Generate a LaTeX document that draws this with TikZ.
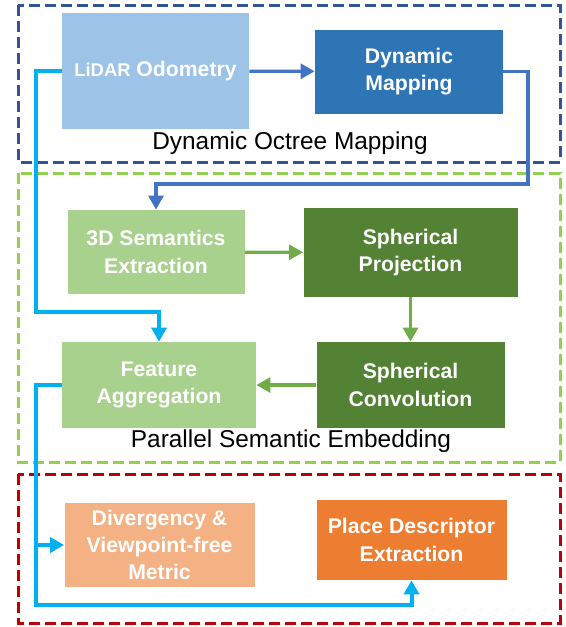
\documentclass[tikz,border=0pt]{standalone}
\usepackage{fontspec}
\setmainfont{Liberation Sans}
\usetikzlibrary{arrows.meta, positioning}

\definecolor{lidarblue}{HTML}{9DC3E6}
\definecolor{mapblue}{HTML}{2E75B6}
\definecolor{lightgreen}{HTML}{A9D18E}
\definecolor{darkgreen}{HTML}{548235}
\definecolor{lightorange}{HTML}{F4B183}
\definecolor{darkorange}{HTML}{ED7D31}
\definecolor{arrowblue}{HTML}{4472C4}
\definecolor{arrowgreen}{HTML}{70AD47}
\definecolor{arrowcyan}{HTML}{00B0F0}
\definecolor{frameblue}{HTML}{2F5597}
\definecolor{framegreen}{HTML}{92D050}
\definecolor{framered}{HTML}{C00000}

\begin{document}
\begin{tikzpicture}[
  x=0.5pt, y=-0.5pt, % pixel grid of the original figure
  block/.style={rectangle, inner sep=0pt, text=white, align=center,
    font=\fontsize{10.6}{13.6}\selectfont\bfseries},
  frame/.style={line width=1.5pt, dash pattern=on 5.5pt off 2.5pt},
  caption/.style={font=\fontsize{12.2}{14}\selectfont},
  link/.style={line width=1.6pt, -{Triangle[length=7pt, width=7.5pt]}},
  feed/.style={line width=2pt, -{Triangle[length=7pt, width=7.5pt]}}]

  \useasboundingbox (0,0) rectangle (566,627);

  % group frames
  \draw[frame, frameblue] (18,5) rectangle (560,162);
  \draw[frame, framegreen] (18,173) rectangle (560,462);
  \draw[frame, framered] (18,474) rectangle (560,623);

  % blocks
  \node[block, fill=lidarblue, minimum width=187*0.5pt, minimum height=116*0.5pt]
    (lidar) at (155.5,71) {{\fontsize{9.2}{12}\selectfont LiDAR} Odometry};
  \node[block, fill=mapblue, minimum width=188*0.5pt, minimum height=84*0.5pt]
    (dynmap) at (409,71.5) {Dynamic\\Mapping};
  \node[block, fill=lightgreen, minimum width=177*0.5pt, minimum height=84*0.5pt]
    (sem) at (156,252) {3D Semantics\\Extraction};
  \node[block, fill=darkgreen, minimum width=214*0.5pt, minimum height=89*0.5pt]
    (sproj) at (410.5,252.5) {Spherical\\Projection};
  \node[block, fill=lightgreen, minimum width=194*0.5pt, minimum height=86*0.5pt]
    (feat) at (159,385) {Feature\\Aggregation};
  \node[block, fill=darkgreen, minimum width=188*0.5pt, minimum height=86*0.5pt]
    (sconv) at (410.5,385) {Spherical\\Convolution};
  \node[block, fill=lightorange, minimum width=190*0.5pt, minimum height=84*0.5pt]
    (div) at (159.5,545) {Divergency \&\\Viewpoint-free\\Metric};
  \node[block, fill=darkorange, minimum width=190*0.5pt, minimum height=80*0.5pt]
    (place) at (411.5,540) {Place Descriptor\\Extraction};

  % captions
  \node[caption] (capmap) at (290,143) {Dynamic Octree Mapping};
  \node[caption] (capsem) at (291,441) {Parallel Semantic Embedding};

  % turning points
  \coordinate (mapturn) at (528,184);
  \coordinate (odoturn) at (36,312);
  \coordinate (featturn) at (36,605);
  \coordinate (divturn) at (36,545);

  % connectors
  \draw[link, arrowblue] (lidar) -- (dynmap);
  \draw[link, arrowblue] (dynmap.east) -| (mapturn) -| (sem.north);
  \draw[link, arrowgreen] (sem) -- (sproj);
  \draw[link, arrowgreen] (sproj) -- (sconv);
  \draw[link, arrowgreen] (sconv) -- (feat);
  \draw[feed, arrowcyan] (lidar.west) -| (odoturn) -| (feat.north);
  \draw[feed, arrowcyan] (feat.west) -| (featturn) -| (place.south);
  \draw[feed, arrowcyan] (divturn) -- (div.west);
\end{tikzpicture}
\end{document}
